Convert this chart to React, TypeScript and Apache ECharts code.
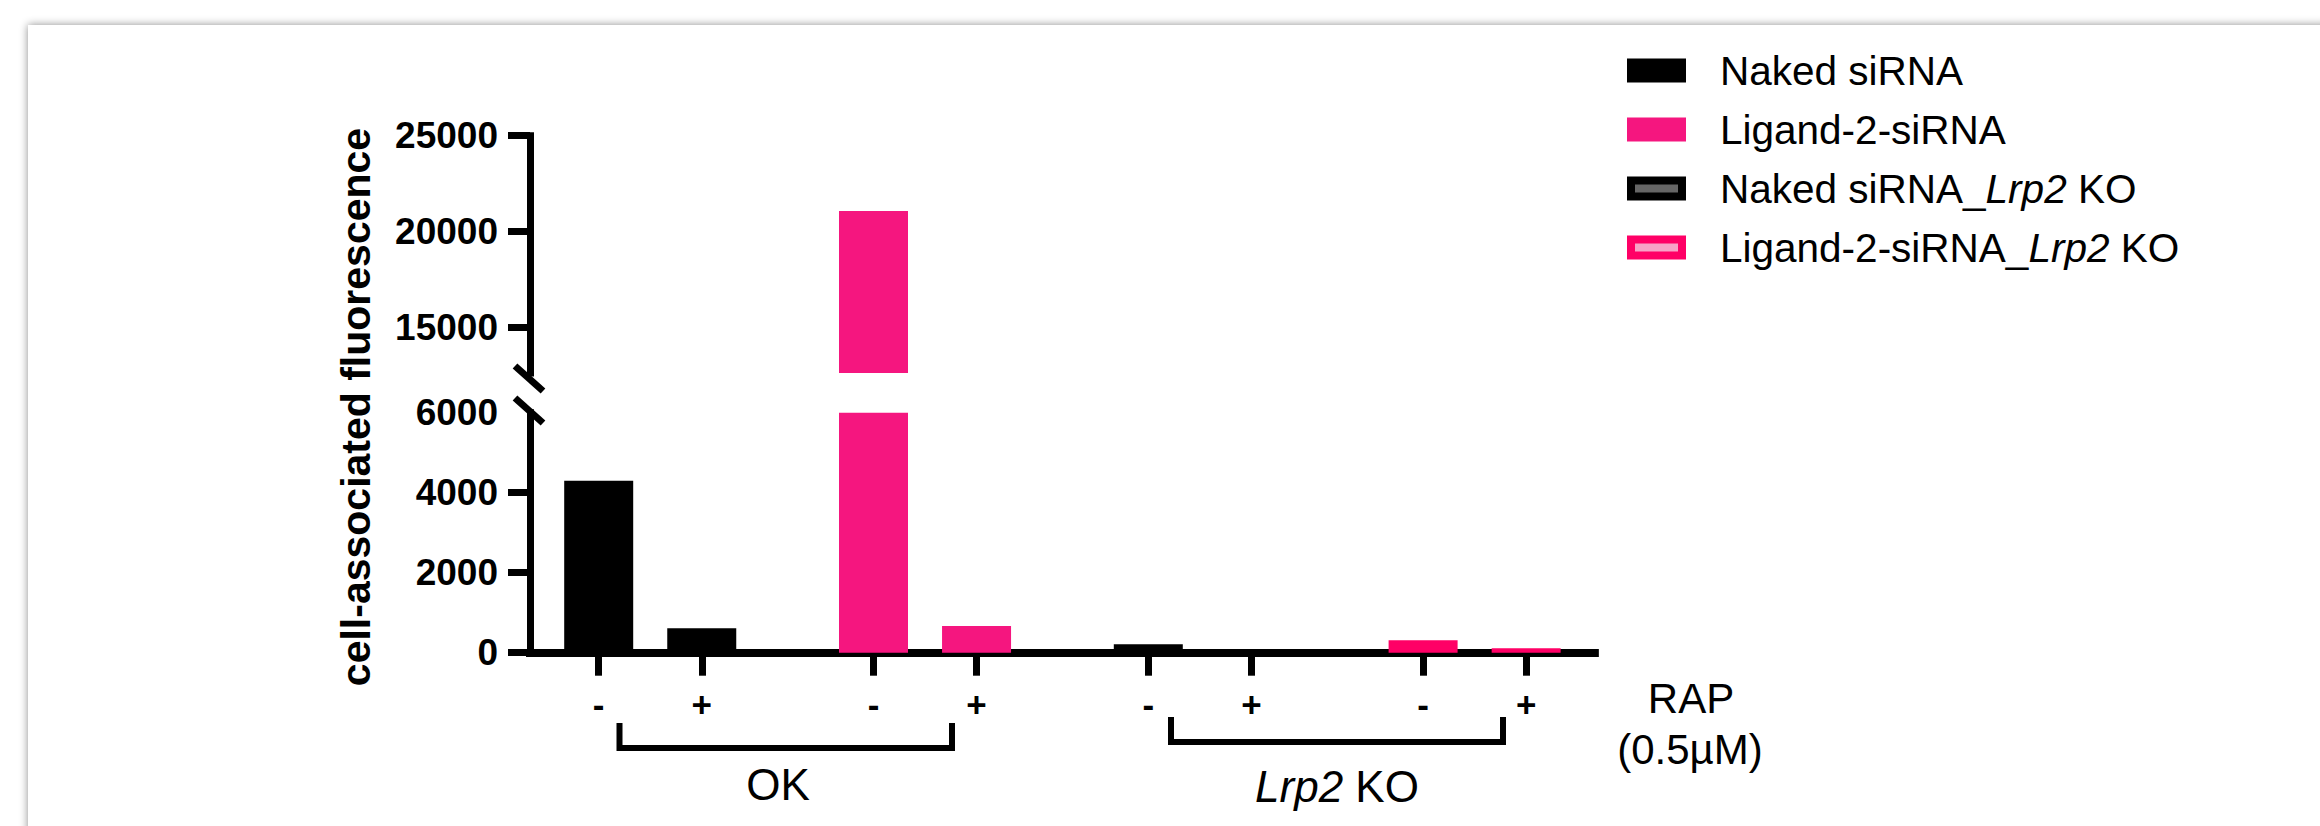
import { useEffect, useRef } from 'react';
import * as echarts from 'echarts';

// ---- data ----
const conditions = ['OK', 'OK', 'OK', 'OK', 'Lrp2 KO', 'Lrp2 KO', 'Lrp2 KO', 'Lrp2 KO'];
const rapLabels = ['-', '+', '-', '+', '-', '+', '-', '+'];
const seriesNames = ['Naked siRNA', 'Ligand-2-siRNA', 'Naked siRNA_Lrp2 KO', 'Ligand-2-siRNA_Lrp2 KO'];
const nakedValues = [4300, 610, null, null, null, null, null, null];
const ligandValues = [null, null, 21080, 667, null, null, null, null];
const nakedKOValues = [null, null, null, null, 210, 80, null, null];
const ligandKOValues = [null, null, null, null, null, null, 310, 110];
const lowerTickValues = [0, 2000, 4000];
const lowerLabelValues = [0, 2000, 4000, 6000];
const upperTickValues = [15000, 20000, 25000];
const lowerRange = [0, 6000];
const upperRange = [12640, 25000];

// ---- styles ----
const FONT = "'Liberation Sans', Arial, Helvetica, sans-serif";
const PINK = '#F5167F';
const PINK_KO = '#FF0066';
const seriesColors = ['#000000', PINK, '#000000', PINK_KO];
const legendFill = ['#000000', PINK, '#666666', '#F7A3C7'];
const legendBorder = ['#000000', PINK, '#000000', PINK_KO];

const SLOT_COUNT = 32;
const slotOf = (i: number) => 2 + Math.floor(i / 2) * 8 + (i % 2) * 3;
const slotToBar: Record<number, number> = {};
conditions.forEach((_, i) => { slotToBar[slotOf(i)] = i; });
const slotNames = Array.from({ length: SLOT_COUNT }, (_, k) => 'slot' + k);
const toSlots = (vals: (number | null)[]) => {
  const out: (number | null)[] = Array(SLOT_COUNT).fill(null);
  vals.forEach((v, i) => { out[slotOf(i)] = v; });
  return out;
};
const allValues = [nakedValues, ligandValues, nakedKOValues, ligandKOValues];

const GRID_LEFT = 530;
const GRID_WIDTH = 31 * 34.35;

export default function App() {
  const ref = useRef<HTMLDivElement>(null);
  useEffect(() => {
    if (!ref.current) return;
    const chart = echarts.init(ref.current, undefined, { renderer: 'svg' });
    const axisLineStyle = { color: '#000', width: 7, cap: 'square' as const };
    const series: any[] = [];
    [0, 1].forEach((g) => {
      allValues.forEach((vals, k) => {
        series.push({
          type: 'bar',
          name: seriesNames[k],
          xAxisIndex: g,
          yAxisIndex: g,
          data: toSlots(vals),
          barWidth: 69,
          barGap: '-100%',
          itemStyle: { color: seriesColors[k] },
          clip: true,
        });
      });
    });
    const isBarSlot = (index: number) => slotToBar[index] !== undefined;
    const yLabel = { margin: 32, fontSize: 37, fontWeight: 'bold', color: '#000', fontFamily: FONT, formatter: (v: number) => String(v) };
    chart.setOption({
      animation: false,
      backgroundColor: '#ffffff',
      grid: [
        { left: GRID_LEFT, top: 412.7, width: GRID_WIDTH, height: 240 },
        { left: GRID_LEFT, top: 135.7, width: GRID_WIDTH, height: 237.3 },
      ],
      xAxis: [
        {
          type: 'category', gridIndex: 0, data: slotNames, boundaryGap: false,
          axisLine: { lineStyle: { color: '#000', width: 8, cap: 'square' } },
          axisTick: { show: true, interval: (i: number) => isBarSlot(i), length: 23, lineStyle: { color: '#000', width: 7 } },
          axisLabel: {
            interval: (i: number) => isBarSlot(i),
            formatter: (_v: string, i: number) => (isBarSlot(i) ? rapLabels[slotToBar[i]] : ''),
            margin: 35, fontSize: 35, fontWeight: 'bold', color: '#000', fontFamily: FONT, lineHeight: 34,
          },
          splitLine: { show: false },
        },
        {
          type: 'category', gridIndex: 1, data: slotNames, boundaryGap: false, show: false,
        },
      ],
      yAxis: [
        {
          type: 'value', gridIndex: 0, min: lowerRange[0], max: lowerRange[1],
          axisLine: { show: true, lineStyle: axisLineStyle },
          axisTick: { show: true, customValues: lowerTickValues, length: 22, lineStyle: { color: '#000', width: 7 } },
          axisLabel: { ...yLabel, customValues: lowerLabelValues },
          splitLine: { show: false },
        },
        {
          type: 'value', gridIndex: 1, min: upperRange[0], max: upperRange[1],
          axisLine: { show: true, lineStyle: axisLineStyle },
          axisTick: { show: true, customValues: upperTickValues, length: 22, lineStyle: { color: '#000', width: 7 } },
          axisLabel: { ...yLabel, customValues: upperTickValues },
          splitLine: { show: false },
        },
      ],
      legend: {
        orient: 'vertical', left: 1622, top: 45,
        itemWidth: 51, itemHeight: 16, itemGap: 18,
        selectedMode: false,
        textStyle: {
          fontSize: 40.5, fontFamily: FONT, color: '#000', lineHeight: 40, padding: [0, 0, 0, 33],
          rich: { i: { fontStyle: 'italic', fontSize: 40.5, fontFamily: FONT, color: '#000', lineHeight: 40 } },
        },
        formatter: (name: string) => name.replace('Lrp2', '{i|Lrp2}'),
        data: seriesNames.map((name, k) => ({
          name, icon: 'rect',
          itemStyle: { color: legendFill[k], borderColor: legendBorder[k], borderWidth: 8 },
        })),
      },
      graphic: [
        {
          type: 'rect', z: -10, silent: true,
          shape: { x: 28, y: 25, width: 2400, height: 900 },
          style: { fill: '#ffffff', shadowBlur: 8, shadowColor: 'rgba(0,0,0,0.45)' },
        },
        {
          type: 'text', x: 356, y: 407, rotation: Math.PI / 2,
          style: { text: 'cell-associated fluorescence', fontSize: 41, fontWeight: 'bold', fontFamily: FONT, fill: '#000', align: 'center', verticalAlign: 'middle' },
        },
        { type: 'line', shape: { x1: 515, y1: 366, x2: 543, y2: 391 }, style: { stroke: '#000', lineWidth: 7 } },
        { type: 'line', shape: { x1: 515, y1: 398, x2: 543, y2: 423 }, style: { stroke: '#000', lineWidth: 7 } },
        {
          type: 'polyline', shape: { points: [[619.5, 723], [619.5, 748], [952, 748], [952, 723]] },
          style: { stroke: '#000', lineWidth: 6, fill: 'none', lineJoin: 'miter' },
        },
        {
          type: 'polyline', shape: { points: [[1171, 717], [1171, 742], [1503, 742], [1503, 717]] },
          style: { stroke: '#000', lineWidth: 6, fill: 'none', lineJoin: 'miter' },
        },
        {
          type: 'text', x: 778, y: 784,
          style: { text: conditions[0], fontSize: 44, fontFamily: FONT, fill: '#000', align: 'center', verticalAlign: 'middle' },
        },
        {
          type: 'text', x: 1337, y: 786,
          style: {
            text: '{i|Lrp2} KO', fontSize: 44, fontFamily: FONT, fill: '#000', align: 'center', verticalAlign: 'middle',
            rich: { i: { fontStyle: 'italic', fontSize: 44, fontFamily: FONT, fill: '#000' } },
          },
        },
        {
          type: 'text', x: 1691, y: 698,
          style: { text: 'RAP', fontSize: 42, fontFamily: FONT, fill: '#000', align: 'center', verticalAlign: 'middle' },
        },
        {
          type: 'text', x: 1690, y: 749,
          style: { text: '(0.5µM)', fontSize: 42, fontFamily: FONT, fill: '#000', align: 'center', verticalAlign: 'middle' },
        },
      ],
      series,
    });
    return () => chart.dispose();
  }, []);
  return <div ref={ref} style={{ position: 'fixed', left: 0, top: 0, width: 2320, height: 826 }} />;
}
